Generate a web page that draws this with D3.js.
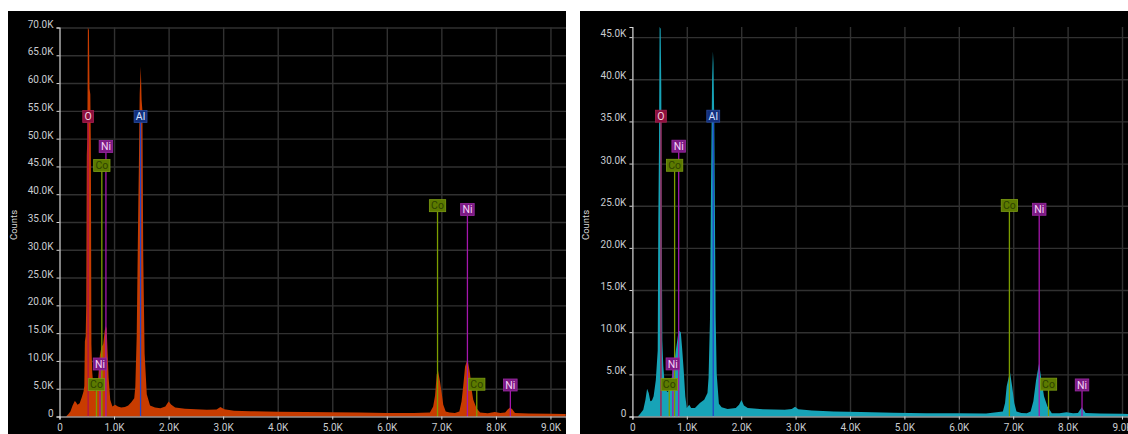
<!DOCTYPE html>
<html>
<head>
<meta charset="utf-8">
<script src="https://cdn.jsdelivr.net/npm/d3@7"></script>
<style>
  html, body { margin: 0; padding: 0; background: #ffffff; }
  svg { display: block; font-family: Roboto, "Noto Sans", sans-serif; }
</style>
</head>
<body>
<svg id="chart" width="1128" height="434"></svg>
<script>
// ---- Spectrum A (energy in keV, counts) ----
const spectrumAEnergy = [
  0.00, 0.12, 0.16, 0.20, 0.24, 0.28, 0.30, 0.33, 0.37, 0.41, 0.44, 0.455, 0.465, 0.48, 0.49,
  0.50, 0.51, 0.52, 0.54, 0.55, 0.565, 0.575, 0.585, 0.60, 0.62, 0.65, 0.68, 0.71, 0.74, 0.77,
  0.80, 0.83, 0.85, 0.865, 0.88, 0.90, 0.93, 0.97, 1.02, 1.07, 1.13, 1.20, 1.26, 1.32, 1.37,
  1.39, 1.415, 1.445, 1.455, 1.47, 1.49, 1.505, 1.52, 1.535, 1.56, 1.60, 1.66, 1.75, 1.85, 1.94,
  2.00, 2.05, 2.12, 2.30, 2.50, 2.70, 2.88, 2.95, 3.02, 3.20, 3.50, 4.00, 4.50, 5.00, 5.50,
  6.00, 6.50, 6.79, 6.85, 6.885, 6.915, 6.94, 6.975, 7.005, 7.035, 7.08, 7.15, 7.25, 7.33, 7.37,
  7.40, 7.435, 7.48, 7.525, 7.555, 7.585, 7.645, 7.71, 7.85, 7.98, 8.08, 8.17, 8.22, 8.26, 8.30,
  8.35, 8.60, 9.00, 9.28
];
const spectrumACounts = [
  0, 0, 400, 900, 2000, 2800, 2600, 2100, 2400, 3500, 4500, 5500, 13500, 14500, 20000,
  47000, 50000, 70000, 69500, 59000, 58000, 49000, 13000, 8000, 5500, 4500, 4800, 7000, 11000, 12500,
  13000, 15500, 16300, 15800, 12000, 7000, 3000, 1800, 2100, 1800, 1600, 1700, 2000, 2600, 3300,
  5400, 14400, 38400, 45000, 58000, 63000, 57000, 55000, 29000, 11400, 4000, 2000, 1600, 1500, 1800,
  2700, 2100, 1600, 1400, 1300, 1200, 1250, 1700, 1300, 1050, 950, 850, 800, 750, 700,
  650, 620, 700, 1800, 3800, 7600, 8200, 6300, 4300, 2100, 900, 700, 650, 900, 2700,
  5400, 9000, 10300, 7800, 4800, 3000, 1500, 700, 600, 800, 650, 700, 1300, 1600, 1300,
  650, 550, 500, 450
];

// ---- Spectrum B (energy in keV, counts) ----
const spectrumBEnergy = [
  0.00, 0.10, 0.14, 0.20, 0.24, 0.27, 0.30, 0.33, 0.36, 0.39, 0.43, 0.465, 0.476, 0.489, 0.50,
  0.52, 0.531, 0.539, 0.55, 0.568, 0.60, 0.65, 0.69, 0.72, 0.76, 0.80, 0.85, 0.89, 0.915, 0.943,
  0.972, 1.00, 1.045, 1.08, 1.15, 1.24, 1.32, 1.38, 1.40, 1.426, 1.445, 1.465, 1.48, 1.49, 1.505,
  1.518, 1.53, 1.55, 1.59, 1.64, 1.75, 1.90, 1.96, 2.005, 2.05, 2.12, 2.40, 2.80, 2.93, 2.99,
  3.05, 3.30, 3.70, 4.20, 4.80, 5.40, 6.00, 6.50, 6.81, 6.85, 6.88, 6.94, 6.98, 7.02, 7.06,
  7.15, 7.25, 7.32, 7.37, 7.42, 7.475, 7.52, 7.566, 7.63, 7.71, 7.85, 7.98, 8.10, 8.19, 8.26,
  8.33, 8.60, 9.00, 9.13
];
const spectrumBCounts = [
  0, 0, 300, 800, 2000, 3300, 2800, 1800, 1900, 2400, 4300, 7800, 23000, 32500, 46200,
  46000, 39000, 23000, 9000, 6000, 3200, 2900, 3300, 4500, 5900, 7900, 10200, 10000, 8000, 5500,
  2400, 1000, 1400, 1000, 1000, 1600, 2000, 2800, 4600, 11500, 27300, 40000, 43300, 42000, 35000,
  23000, 11800, 5000, 1500, 1100, 900, 1000, 1400, 1950, 1300, 1000, 850, 800, 900, 1150,
  850, 700, 600, 520, 450, 400, 380, 360, 600, 1600, 3600, 5300, 3600, 1600, 600,
  420, 400, 600, 1800, 4300, 6300, 4300, 2400, 1200, 400, 380, 500, 400, 420, 1100,
  420, 350, 320, 300
];

// ---- Axis extents ----
const countMaxima = [70000, 46200];
const energyMaxima = [9.285, 9.11];
const countTicksA = [0, 5000, 10000, 15000, 20000, 25000, 30000, 35000, 40000, 45000, 50000, 55000, 60000, 65000, 70000];
const countTicksB = [0, 5000, 10000, 15000, 20000, 25000, 30000, 35000, 40000, 45000];
const energyTicks = [0, 1, 2, 3, 4, 5, 6, 7, 8, 9];

// ---- Element line markers (energy keV, marker height as fraction of full scale) ----
const markerElements = ["O", "Al", "Ni", "Co", "Ni", "Co", "Co", "Ni", "Co", "Ni"];
const markerEnergies = [0.525, 1.486, 0.851, 0.776, 0.743, 0.678, 6.930, 7.478, 7.649, 8.265];
const markerLevels   = [0.771, 0.771, 0.694, 0.645, 0.135, 0.082, 0.542, 0.532, 0.083, 0.081];

const elementStyle = {
  O:  { line: "#b0104a", fill: "#8c0f3e", stroke: "#a8204e", text: "#f4d2de" },
  Al: { line: "#2244c8", fill: "#12307e", stroke: "#2a4a9c", text: "#d6e2ff" },
  Ni: { line: "#a416ac", fill: "#7c1a84", stroke: "#9a2aa2", text: "#f6d4f6" },
  Co: { line: "#7c9e00", fill: "#5c7a00", stroke: "#7c9c12", text: "#2e4200" }
};

const svg = d3.select("#chart");

const panels = [
  { left: 8,   right: 566,  top: 11, bottom: 434, axisX: 59.5,  plotTop: 27.5, baseY: 416.5,
    fill: "#c83c00", energy: spectrumAEnergy, counts: spectrumACounts, yTicks: countTicksA, idx: 0 },
  { left: 580, right: 1128, top: 11, bottom: 434, axisX: 632.4, plotTop: 27,   baseY: 416.5,
    fill: "#17a3b7", energy: spectrumBEnergy, counts: spectrumBCounts, yTicks: countTicksB, idx: 1 }
];

const fmtCount = d => d === 0 ? "0" : (d / 1000).toFixed(1) + "K";
const fmtEnergy = d => d === 0 ? "0" : d.toFixed(1) + "K";

panels.forEach(p => {
  const g = svg.append("g");
  const clipId = "clip" + p.idx;
  svg.append("defs").append("clipPath").attr("id", clipId)
    .append("rect").attr("x", p.left).attr("y", p.top)
    .attr("width", p.right - p.left).attr("height", p.bottom - p.top);

  const root = g.attr("clip-path", `url(#${clipId})`);

  root.append("rect").attr("x", p.left).attr("y", p.top)
    .attr("width", p.right - p.left).attr("height", p.bottom - p.top)
    .attr("fill", "#000000");

  const x = d3.scaleLinear().domain([0, energyMaxima[p.idx]]).range([p.axisX, p.right]);
  const y = d3.scaleLinear().domain([0, countMaxima[p.idx]]).range([p.baseY, p.plotTop]);

  // grid
  const gridX = root.append("g").attr("transform", `translate(0,${p.baseY})`)
    .call(d3.axisBottom(x).tickValues(energyTicks.filter(t => t > 0))
      .tickSize(-(p.baseY - p.plotTop)).tickFormat(""));
  gridX.select(".domain").remove();
  gridX.selectAll("line").attr("stroke", "#313131").attr("stroke-width", 1.4);

  const gridY = root.append("g").attr("transform", `translate(${p.axisX},0)`)
    .call(d3.axisLeft(y).tickValues(p.yTicks.filter(t => t > 0))
      .tickSize(-(p.right - p.axisX)).tickFormat(""));
  gridY.select(".domain").remove();
  gridY.selectAll("line").attr("stroke", "#313131").attr("stroke-width", 1.4);

  // spectrum
  const pts = p.energy.map((e, i) => [e, p.counts[i]]);
  const area = d3.area()
    .x(d => x(d[0]))
    .y0(p.baseY)
    .y1(d => y(d[1]));
  root.append("path").datum(pts).attr("d", area).attr("fill", p.fill);

  // element markers
  const markers = markerElements.map((el, i) => ({
    el, e: markerEnergies[i], level: markerLevels[i]
  })).sort((a, b) => b.level - a.level);

  const mg = root.append("g");
  markers.forEach(m => {
    const st = elementStyle[m.el];
    const cx = x(m.e);
    const cy = y(m.level * countMaxima[p.idx]);
    mg.append("line")
      .attr("x1", cx).attr("x2", cx)
      .attr("y1", p.baseY).attr("y2", cy + 6)
      .attr("stroke", st.line).attr("stroke-width", 1.3);
  });
  markers.forEach(m => {
    const st = elementStyle[m.el];
    const cx = x(m.e);
    const cy = y(m.level * countMaxima[p.idx]);
    const lg = mg.append("g");
    const rect = lg.append("rect");
    const t = lg.append("text")
      .attr("x", cx).attr("y", cy + 3.6)
      .attr("text-anchor", "middle")
      .attr("font-size", 10.5)
      .attr("fill", st.text)
      .text(m.el);
    const w = t.node().getComputedTextLength() + 3.5;
    rect.attr("x", cx - w / 2).attr("y", cy - 6)
      .attr("width", w).attr("height", 12)
      .attr("fill", st.fill).attr("stroke", st.stroke).attr("stroke-width", 0.8);
  });

  // axes
  const yAxis = root.append("g").attr("transform", `translate(${p.axisX},0)`)
    .call(d3.axisLeft(y).tickValues(p.yTicks).tickFormat(fmtCount).tickSize(3).tickPadding(3));
  yAxis.select(".domain").attr("stroke", "#d8d8d8").attr("stroke-width", 1.2);
  yAxis.selectAll(".tick line").attr("stroke", "#d8d8d8");
  yAxis.selectAll(".tick text").attr("dy", "-0.5").attr("fill", "#c9ccd0")
    .attr("font-size", 10).attr("font-family", "Roboto, sans-serif");

  const xAxis = root.append("g").attr("transform", `translate(0,${p.baseY})`)
    .call(d3.axisBottom(x).tickValues(energyTicks).tickFormat(fmtEnergy).tickSize(3).tickPadding(4));
  xAxis.select(".domain").attr("stroke", "#e2dcdc").attr("stroke-width", 1.2);
  xAxis.selectAll(".tick line").attr("stroke", "#d8d8d8");
  xAxis.selectAll(".tick text").attr("fill", "#c9ccd0")
    .attr("font-size", 10).attr("font-family", "Roboto, sans-serif");

  root.append("text")
    .attr("transform", `translate(${p.left + 9},225) rotate(-90)`)
    .attr("text-anchor", "middle")
    .attr("font-size", 9.5)
    .attr("fill", "#d4d4d4")
    .text("Counts");
});
</script>
</body>
</html>
